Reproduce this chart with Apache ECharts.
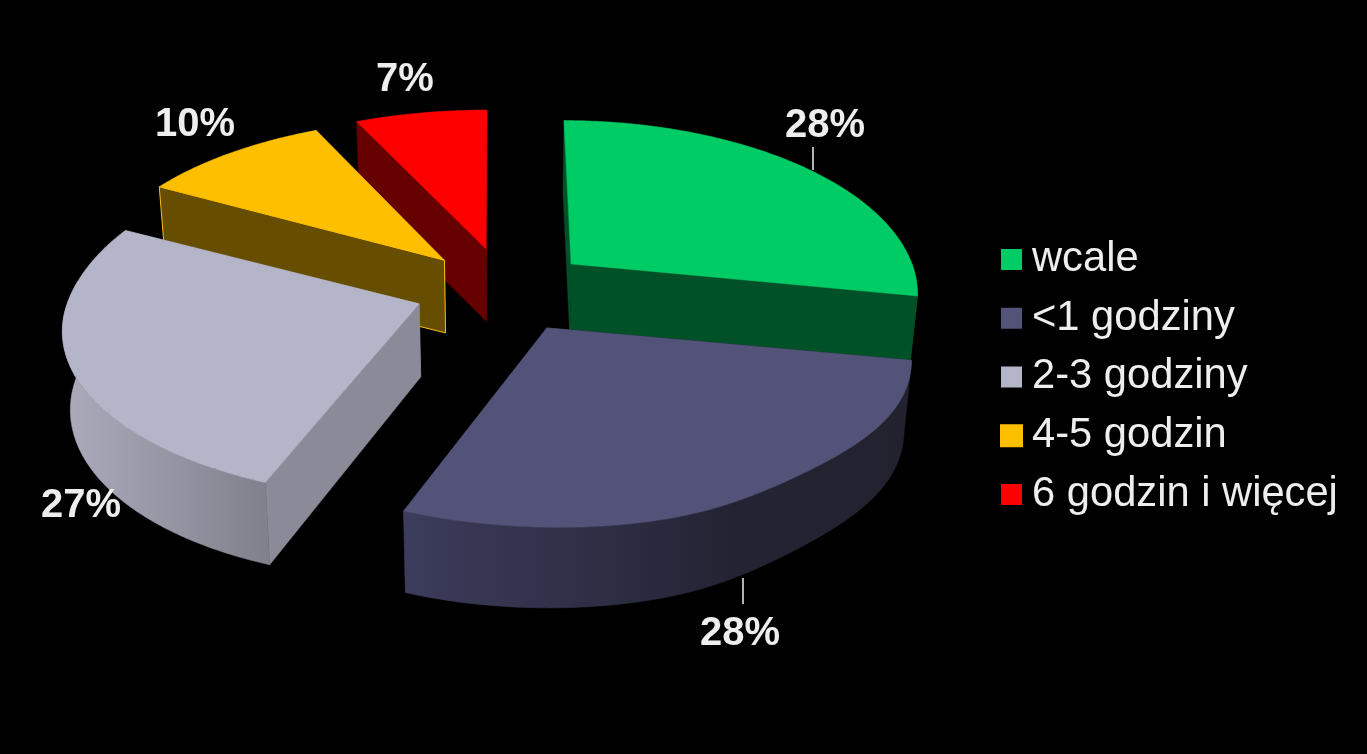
<!DOCTYPE html>
<html><head><meta charset="utf-8">
<style>html,body{margin:0;padding:0;background:#000}#c{width:1367px;height:754px}</style>
<script src="https://cdn.jsdelivr.net/npm/echarts@6/dist/echarts.min.js"></script>
</head><body><div id="c"></div>
<script>
const categories = ['wcale','<1 godziny','2-3 godziny','4-5 godzin','6 godzin i więcej'];
const shares = [28,28,27,10,7];

// look of each slice (same order as categories)
const topColors  = ['#00CC66','#535379','#B5B5C9','#FDBF00','#FF0000'];
const sideColors = ['#005028','#22222F','#8A8A98','#664D00','#660000'];
const wallStops  = [
  [[0,'#005028'],[1,'#005028']],
  [[0,'#3C3C5C'],[0.35,'#2F2F47'],[0.65,'#232333'],[1,'#22222F']],
  [[0,'#ABABBC'],[1,'#80808C']],
  [[0,'#664D00'],[1,'#664D00']],
  [[0,'#660000'],[1,'#660000']]];
const paintOrder = [4,3,0,2,1];
const labelAt = [[825,126],[740,634],[81,506],[195,125],[405,80]];
const leaders = [[[813,147],[813,170]],[[743,578],[743,604]],null,null,null];

// perspective view of the exploded pie, with a small per-slice fit
const view = {cx:505, cy:289, k:167, p:0.158, explode:0.245, vx:505, taper:0.982};
const fitR      = [341,358,352,352,350];
const fitK      = [166,168,164,164,161];
const fitShear  = [7,12,-2,-3,-1];
const fitShear2 = [0,0,35,0,0];
const fitNudge  = [[-1,1],[0,3],[-4,1],[-1,1],[0,0]];
const fitDent   = [0,17,0,0,0];

const total = shares.reduce((a,b)=>a+b,0);
const rad = d => d*Math.PI/180;
const starts = shares.map((_,i)=>shares.slice(0,i).reduce((a,b)=>a+b,0)/total*360);
const ends = shares.map((_,i)=>starts[i]+shares[i]/total*360);

function apexOf(i){
  const m = rad((starts[i]+ends[i])/2);
  return [view.cx+view.explode*355*Math.sin(m)+fitNudge[i][0], view.cy-view.explode*view.k*Math.cos(m)+fitNudge[i][1]];
}
function topPt(i,apex,deg){
  const dent=fitDent[i]*Math.exp(-Math.pow((deg-143)/18,2));
  const x=Math.sin(rad(deg)), y=-Math.cos(rad(deg)), w=1-view.p*y;
  const shear=fitShear[i]*y-fitShear2[i]*Math.pow(Math.min(y,0),2);
  return [apex[0]+fitR[i]*x/w+shear-dent, apex[1]+fitK[i]*y/w];
}
function down(pt){
  const d=72+Math.max(0,pt[1]-300)*0.04-(pt[0]-505)*0.012;
  return [view.vx+(pt[0]-view.vx)*view.taper, pt[1]+d];
}
function arc(i,apex,a,b){
  const pts=[]; const n=Math.max(1,Math.ceil(b-a)*2);
  for(let j=0;j<=n;j++) pts.push(topPt(i,apex,a+(b-a)*j/n));
  return pts;
}
function poly(points,fill,z2,stroke){
  return {type:'polygon',z2:z2,shape:{points:points},
    style:{fill:fill,stroke:stroke||fill,lineWidth:stroke?1:0.5}};
}
function renderSlice(i){
  const apex=apexOf(i), a=starts[i], b=ends[i];
  const rim=arc(i,apex,a,b);
  const pA=rim[0], pB=rim[rim.length-1];
  const stroke = i===3 ? '#FDBF00' : null;
  const faces=[poly([pB,apex,down(apex),down(pB)],sideColors[i],1)];
  faces.push(poly([pA,apex,down(apex),down(pA)],sideColors[i],2,stroke));
  // only the front part of the outer wall can be seen
  const wa=Math.max(a,90), wb=Math.min(b,278);
  if(wb>wa){
    const w=arc(i,apex,wa,wb);
    faces.push(poly(w.concat(w.map(down).reverse()),
      new echarts.graphic.LinearGradient(0,0,1,0,wallStops[i].map(s=>({offset:s[0],color:s[1]}))),3));
  }
  faces.push(poly([apex].concat(rim),topColors[i],4));
  return faces;
}
const series = paintOrder.map((i,order)=>({
  type:'custom', name:categories[i], coordinateSystem:'none', z:2+order, silent:true,
  animation:false,
  itemStyle: i===3 ? {color:topColors[i],borderColor:topColors[i],borderWidth:2} : {color:topColors[i]},
  data:[shares[i]],
  renderItem:function(params,api){
    const kids=renderSlice(i);
    if(leaders[i]) kids.push({type:'line',z2:5,shape:{x1:leaders[i][0][0],y1:leaders[i][0][1],x2:leaders[i][1][0],y2:leaders[i][1][1]},style:{stroke:'#EEEEEE',lineWidth:1.5}});
    kids.push({type:'text',z2:6,style:{text:api.value(0)+'%',x:labelAt[i][0],y:labelAt[i][1],align:'center',verticalAlign:'middle',
      fill:'#EEEEEE',font:'bold 40px "Liberation Sans", Arial, sans-serif'}});
    return {type:'group',children:kids};
  }
}));

const chart=echarts.init(document.getElementById('c'),null,{renderer:'canvas'});
chart.setOption({
  backgroundColor:'#000000', animation:false,
  legend:{show:true,orient:'vertical',left:1000,top:238.5,padding:0,itemWidth:21,itemHeight:21,itemGap:16.75,icon:'rect',
    data:categories,selectedMode:false,
    textStyle:{color:'#EEEEEE',fontSize:41.7,lineHeight:36,fontFamily:'"Liberation Sans", Arial, sans-serif',padding:[0,0,0,5]}},
  series:series
});
</script></body></html>
